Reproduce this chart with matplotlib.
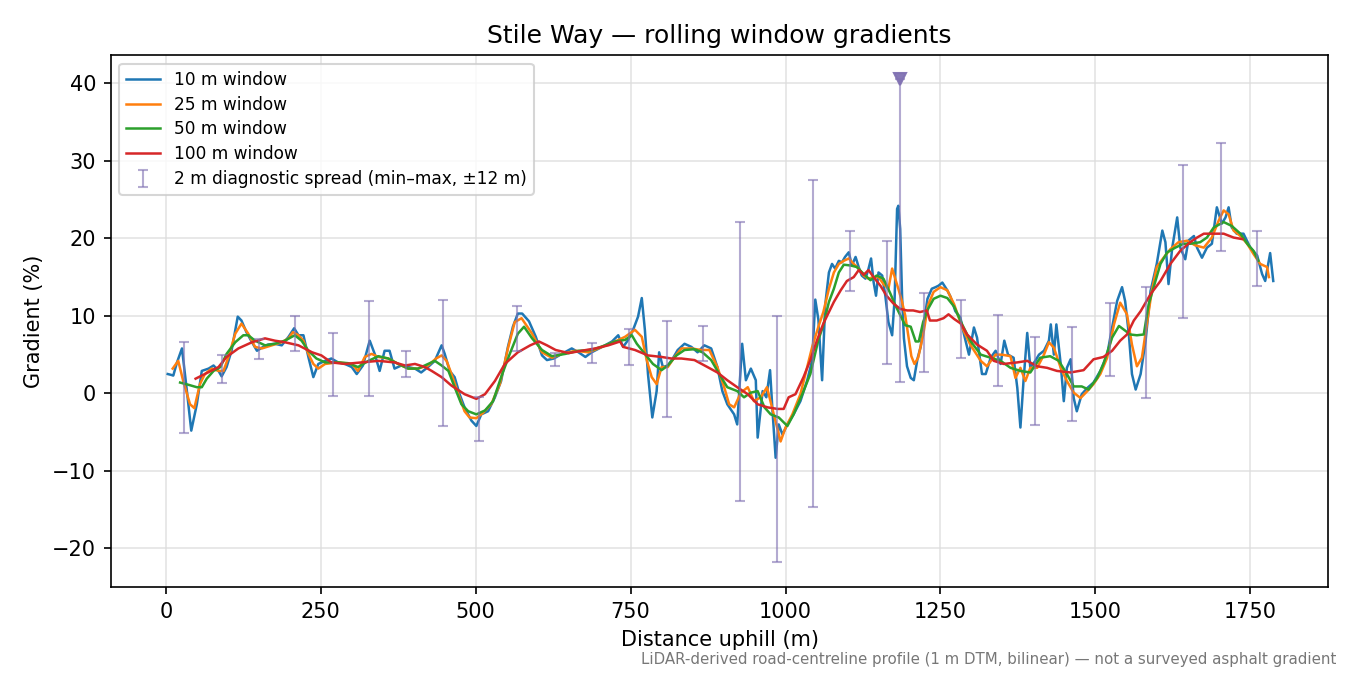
import numpy as np
import matplotlib
matplotlib.use("Agg")
import matplotlib.pyplot as plt

# 10 m window (distance m, gradient %)
d10 = [3, 8, 12, 18, 26, 33, 41, 50, 58, 69, 77, 85, 90, 98, 106, 116, 122, 130, 139, 147,
       155, 165, 176, 187, 198, 207, 214, 222, 230, 238, 246, 257, 267, 278, 289, 300, 308, 318,
       329, 337, 345, 353, 361, 369, 380, 391, 402, 412, 423, 434, 445, 450, 458, 466, 474, 482,
       493, 501, 509, 520, 531, 541, 552, 560, 568, 575, 586, 597, 607, 615, 626, 639, 655, 666,
       677, 687, 704, 720, 730, 738, 746, 754, 762, 768, 773, 778, 785, 792, 796, 802, 810, 818,
       826, 837, 848, 858, 869, 880, 890, 898, 906, 917, 922, 930, 936, 944, 952, 955, 963, 969,
       975, 979, 984, 989, 995, 1003, 1013, 1024, 1035, 1043, 1048, 1053, 1059, 1064, 1070, 1075,
       1080, 1086, 1091, 1096, 1102, 1107, 1113, 1118, 1123, 1129, 1134, 1138, 1142, 1146, 1150,
       1156, 1161, 1166, 1172, 1176, 1180, 1182, 1185, 1188, 1191, 1196, 1202, 1207, 1213, 1218,
       1224, 1229, 1236, 1242, 1247, 1253, 1261, 1266, 1274, 1282, 1288, 1296, 1304, 1309, 1317,
       1323, 1331, 1339, 1347, 1353, 1359, 1368, 1374, 1379, 1384, 1390, 1395, 1403, 1409, 1417,
       1425, 1428, 1433, 1437, 1444, 1449, 1454, 1460, 1465, 1470, 1478, 1487, 1497, 1508, 1519,
       1527, 1535, 1543, 1548, 1554, 1559, 1565, 1573, 1581, 1589, 1599, 1608, 1613, 1618, 1624,
       1632, 1637, 1645, 1650, 1659, 1664, 1672, 1680, 1688, 1696, 1704, 1710, 1715, 1720, 1728,
       1739, 1750, 1761, 1769, 1774, 1782, 1787]
g10 = [2.5, 2.4, 2.3, 4.0, 5.8, 1.0, -4.8, -1.4, 2.9, 3.2, 3.6, 2.9, 2.2, 3.4, 5.5, 9.9, 9.4, 7.9, 6.6, 5.5,
       5.9, 6.3, 6.4, 6.2, 7.3, 8.4, 7.5, 7.5, 4.7, 2.1, 3.8, 4.2, 4.5, 4.0, 3.8, 3.4, 2.5, 3.6,
       6.8, 5.1, 2.9, 5.5, 5.5, 3.2, 3.6, 3.4, 3.2, 2.7, 3.4, 4.2, 6.2, 5.1, 2.9, 2.1, -0.1, -1.8,
       -3.5, -4.2, -2.7, -2.3, -0.5, 1.6, 6.0, 8.6, 10.3, 10.3, 9.3, 7.3, 4.9, 4.3, 4.5, 5.1, 5.8, 5.3,
       4.7, 5.3, 6.0, 6.7, 7.5, 6.0, 6.9, 8.2, 9.9, 12.3, 8.2, 2.5, -3.1, 0.3, 5.3, 3.4, 3.6, 4.5,
       5.6, 6.4, 6.0, 5.3, 6.2, 5.8, 3.4, 0.3, -1.4, -2.7, -4.0, 6.4, 1.7, 3.2, 1.7, -5.7, 0.3, -0.5,
       3.0, -2.3, -8.3, -4.0, -5.3, -4.0, -2.7, -1.0, 1.7, 4.3, 12.1, 9.5, 1.7, 11.4, 15.6, 16.7,
       16.1, 17.1, 16.9, 17.6, 18.2, 16.5, 17.6, 16.3, 15.2, 14.8, 16.1, 17.4, 14.4, 12.6, 15.6,
       15.2, 12.6, 9.2, 7.5, 12.2, 23.8, 24.2, 21.2, 12.6, 7.1, 3.5, 2.0, 1.7, 4.5, 6.0,
       9.5, 12.2, 13.5, 13.7, 13.9, 14.3, 13.3, 12.5, 10.6, 9.8, 7.6, 5.0, 8.5, 7.2, 2.5,
       2.5, 4.6, 5.5, 3.8, 6.8, 5.0, 4.6, 0.7, -4.4, 1.6, 7.8, 3.3, 4.2, 5.0, 5.5,
       6.8, 8.9, 5.0, 8.9, 3.8, -1.0, 3.3, 4.4, -0.6, -2.3, -0.1, 0.7, 1.4, 2.9, 5.0,
       8.5, 11.9, 13.7, 11.9, 7.6, 2.5, 0.5, 2.5, 6.8, 13.2, 16.7, 21.0, 19.5, 14.1, 18.8,
       22.7, 18.8, 17.3, 19.7, 20.3, 18.8, 17.5, 18.8, 19.3, 24.0, 21.9, 22.7, 24.0, 21.4, 20.6,
       20.6, 18.8, 17.8, 15.4, 14.5, 18.1, 14.5]

# 25 m window
d25 = [11, 20, 28, 39, 46, 55, 63, 74, 85, 93, 101, 112, 122, 133, 144, 155, 171, 187, 198, 205,
       214, 222, 230, 238, 246, 257, 278, 300, 310, 321, 332, 343, 359, 375, 391, 407, 423, 436,
       445, 453, 461, 472, 482, 490, 501, 512, 525, 539, 552, 563, 574, 591, 607, 623, 639, 661,
       682, 704, 725, 741, 757, 768, 776, 784, 792, 800, 810, 821, 832, 848, 864, 877, 890, 901,
       909, 917, 928, 939, 949, 960, 970, 981, 992, 1000, 1011, 1024, 1035, 1043, 1053, 1061,
       1070, 1078, 1086, 1094, 1102, 1110, 1118, 1126, 1134, 1142, 1150, 1158, 1166, 1172, 1177,
       1182, 1188, 1193, 1198, 1203, 1208, 1214, 1222, 1230, 1239, 1250, 1261, 1272, 1285, 1298,
       1315, 1325, 1339, 1349, 1363, 1371, 1379, 1387, 1395, 1406, 1417, 1425, 1433, 1444, 1454,
       1465, 1476, 1487, 1497, 1508, 1519, 1530, 1540, 1551, 1559, 1567, 1575, 1583, 1591, 1599,
       1610, 1621, 1634, 1648, 1661, 1675, 1688, 1699, 1707, 1715, 1723, 1734, 1745, 1755, 1766,
       1777, 1780]
g25 = [3.2, 4.2, 1.6, -1.4, -1.9, 1.2, 2.5, 3.2, 2.9, 2.9, 4.7, 7.7, 9.0, 7.7, 6.0, 5.8, 6.2, 6.6, 7.1, 7.9,
       7.5, 6.8, 5.1, 3.8, 3.2, 3.8, 4.0, 3.8, 2.9, 4.7, 5.1, 4.7, 4.5, 3.8, 3.2, 3.2, 3.6, 4.5,
       4.9, 4.2, 2.5, -0.1, -2.3, -3.1, -3.2, -2.5, -1.4, 1.2, 5.8, 9.2, 9.7, 7.7, 5.3, 4.6, 5.1, 5.5,
       5.3, 6.0, 6.7, 7.3, 8.2, 7.3, 4.3, 2.1, 1.2, 3.4, 3.4, 4.7, 5.8, 5.8, 5.6, 5.6, 3.4, 0.8,
       -1.4, -1.8, 0.1, 0.8, -1.0, -0.5, 0.8, -2.7, -6.2, -4.4, -2.7, -0.1, 3.4, 6.0, 8.6, 10.5,
       13.5, 15.6, 16.7, 17.1, 17.4, 16.7, 16.1, 15.2, 14.8, 15.0, 15.0, 14.1, 13.5, 16.1, 14.8,
       13.5, 11.8, 10.1, 7.5, 4.8, 3.8, 4.6, 7.5, 11.4, 13.1, 13.7, 13.3, 11.5, 8.5, 6.3,
       4.2, 3.5, 5.0, 5.0, 4.8, 2.0, 3.3, 1.6, 3.3, 3.3, 5.0, 6.6, 5.9, 3.3, 1.6,
       0.1, -0.6, 0.3, 1.2, 2.5, 4.6, 8.9, 11.7, 10.2, 6.3, 3.5, 4.6, 8.9, 13.2, 16.3,
       17.5, 18.6, 19.5, 19.7, 19.1, 18.8, 20.1, 22.3, 23.6, 23.1, 21.0, 20.3, 19.3, 18.0, 16.7,
       16.3, 15.0]

# 50 m window
d50 = [23, 37, 50, 58, 66, 77, 88, 98, 112, 125, 133, 144, 160, 176, 192, 208, 219, 230, 243, 257,
       278, 294, 310, 327, 343, 359, 375, 391, 407, 423, 434, 445, 456, 466, 477, 488, 501, 515,
       528, 541, 555, 568, 578, 591, 607, 623, 645, 666, 687, 709, 725, 741, 752, 760, 773, 786,
       800, 810, 824, 837, 853, 866, 880, 893, 906, 922, 933, 944, 955, 966, 976, 989, 1003,
       1013, 1027, 1040, 1053, 1061, 1070, 1078, 1086, 1094, 1105, 1115, 1126, 1137, 1147, 1158,
       1169, 1177, 1185, 1193, 1202, 1210, 1215, 1222, 1230, 1239, 1250, 1261, 1272, 1285, 1298,
       1315, 1331, 1347, 1363, 1379, 1395, 1411, 1427, 1441, 1454, 1465, 1478, 1489, 1503, 1513,
       1527, 1538, 1548, 1556, 1567, 1578, 1586, 1594, 1605, 1616, 1629, 1642, 1653, 1669, 1680,
       1691, 1707, 1720, 1734, 1745, 1755, 1763]
g50 = [1.4, 1.1, 0.8, 0.8, 1.9, 2.9, 3.4, 5.1, 6.6, 7.5, 7.5, 6.8, 6.2, 6.4, 6.8, 7.5, 6.8, 5.5, 4.5, 4.0,
       4.0, 3.9, 3.4, 4.2, 4.8, 4.5, 3.8, 3.2, 3.2, 3.8, 4.2, 3.6, 2.9, 0.8, -1.4, -2.3, -2.7, -2.2,
       -1.0, 2.1, 5.1, 7.7, 8.6, 7.1, 5.6, 4.8, 5.1, 5.5, 5.6, 6.2, 6.7, 6.9, 7.5, 6.4, 5.1, 3.8,
       3.0, 3.6, 4.9, 5.6, 5.7, 5.3, 4.3, 2.5, 0.8, 0.3, -0.5, 0.1, 0.3, -1.8, -2.7, -3.1, -4.2,
       -2.7, -0.1, 2.5, 6.9, 8.8, 11.8, 13.5, 15.6, 16.6, 16.5, 16.3, 15.4, 14.6, 15.2, 14.8,
       12.9, 11.4, 10.1, 8.8, 8.6, 6.7, 6.7, 9.2, 10.9, 12.2, 12.6, 12.3, 11.2, 8.9, 6.8,
       5.0, 4.6, 4.2, 3.3, 2.9, 2.7, 4.6, 4.8, 4.2, 2.5, 0.9, 0.9, 0.5, 2.0, 3.8,
       7.2, 8.7, 8.1, 7.6, 7.5, 7.6, 11.5, 13.7, 16.7, 18.2, 18.8, 19.3, 19.3, 19.5, 20.1,
       21.4, 22.1, 21.6, 20.6, 19.3, 18.4, 17.1]

# 100 m window
d100 = [48, 63, 85, 98, 117, 139, 160, 176, 192, 214, 236, 251, 267, 289, 316, 343, 369, 386, 402, 418,
        429, 445, 461, 482, 501, 515, 531, 547, 568, 588, 602, 615, 629, 650, 671, 693, 714, 733,
        738, 757, 778, 800, 816, 832, 853, 874, 890, 906, 922, 939, 955, 971, 987, 997, 1005, 1016,
        1029, 1040, 1051, 1061, 1067, 1078, 1089, 1099, 1110, 1118, 1126, 1134, 1142, 1153, 1163,
        1174, 1185, 1196, 1206, 1217, 1228, 1233, 1244, 1255, 1263, 1272, 1283, 1293, 1309, 1325,
        1336, 1352, 1374, 1390, 1406, 1422, 1438, 1460, 1481, 1497, 1513, 1527, 1540, 1551, 1562,
        1573, 1589, 1605, 1621, 1637, 1653, 1664, 1675, 1691, 1707, 1723, 1737]
g100 = [1.9, 2.5, 3.4, 4.7, 5.8, 6.6, 7.1, 6.8, 6.6, 6.2, 5.3, 4.9, 4.0, 3.8, 4.0, 4.2, 4.0, 3.6, 3.8, 3.4,
        2.9, 2.1, 1.0, -0.1, -0.7, -0.1, 1.6, 3.8, 5.3, 6.2, 6.7, 6.2, 5.6, 5.2, 5.5, 5.8, 6.2, 6.7,
        6.0, 5.6, 4.9, 4.7, 4.5, 4.5, 4.3, 3.4, 2.7, 1.7, 0.8, -0.1, -1.4, -1.8, -2.0, -2.0, -0.5, -0.1,
        2.1, 4.3, 6.9, 9.0, 10.0, 11.8, 13.3, 14.5, 15.0, 15.9, 15.3, 15.9, 15.0, 13.9, 12.6,
        11.6, 10.9, 10.7, 10.7, 10.5, 10.7, 9.4, 9.4, 9.7, 10.2, 9.6, 9.0, 7.6, 6.3, 5.5,
        4.2, 3.8, 4.0, 4.2, 3.5, 3.3, 2.9, 2.7, 3.0, 4.4, 4.7, 5.5, 6.8, 7.6, 9.4,
        10.6, 12.8, 14.5, 16.7, 18.4, 19.5, 20.1, 20.6, 20.6, 20.6, 20.1, 19.9]

# 2 m diagnostic spread: position, min, max
spread_d = [30, 90, 150, 209, 269, 328, 388, 447, 506, 567, 628, 687, 748, 808, 867, 926, 986,
            1045, 1104, 1164, 1185, 1223, 1283, 1343, 1403, 1463, 1523, 1582, 1642, 1702, 1761]
spread_lo = [-5.1, 1.3, 4.5, 5.5, -0.3, -0.3, 2.1, -4.2, -6.1, 5.5, 3.5, 3.9, 3.7, -3.1, 4.2, -13.9, -21.8,
             -14.7, 13.2, 3.8, 1.5, 2.7, 4.6, 0.9, -4.1, -3.5, 2.3, -0.6, 9.7, 18.4, 13.8]
spread_hi = [6.6, 4.9, 7.0, 10.0, 7.8, 11.9, 5.5, 12.0, -0.5, 11.3, 5.2, 6.5, 8.3, 9.3, 8.7, 22.1, 10.0,
             27.5, 21.0, 19.6, 40.5, 13.0, 12.1, 10.1, 7.3, 8.6, 11.6, 13.7, 29.4, 32.3, 21.0]

# clipped maximum marker
clip_d = [1185]
clip_g = [40.5]

fig, ax = plt.subplots(figsize=(9, 4.5), dpi=150)
fig.subplots_adjust(left=0.082, right=0.984, top=0.918, bottom=0.13)

lw = 1.2
ax.plot(d10, g10, color="#1f77b4", lw=lw, label="10 m window")
ax.plot(d25, g25, color="#ff7f0e", lw=lw, label="25 m window")
ax.plot(d50, g50, color="#2ca02c", lw=lw, label="50 m window")
ax.plot(d100, g100, color="#d62728", lw=lw, label="100 m window")

lo = np.array(spread_lo)
hi = np.array(spread_hi)
ax.errorbar(spread_d, lo, yerr=[np.zeros_like(lo), hi - lo], fmt="none",
            ecolor="#8172b3", elinewidth=1.0, capsize=2.5, alpha=0.6,
            label="2 m diagnostic spread (min\u2013max, \u00b112 m)")
ax.plot(clip_d, clip_g, linestyle="none", marker="v", markersize=6,
        color="#8172b3", alpha=0.95)

ax.set_xlim(-89, 1876)
ax.set_ylim(-25, 43.6)
ax.grid(True, color="#dddddd", linewidth=0.8, alpha=0.8)
ax.set_axisbelow(True)

ax.set_title("Stile Way \u2014 rolling window gradients", fontsize=12)
ax.set_xlabel("Distance uphill (m)")
ax.set_ylabel("Gradient (%)")
ax.legend(loc="upper left", fontsize=8.2, labelspacing=0.4)

fig.text(0.99, 0.012,
         "LiDAR-derived road-centreline profile (1 m DTM, bilinear) \u2014 not a surveyed asphalt gradient",
         ha="right", va="bottom", fontsize=7.2, color="#777777")

fig.savefig("out.png", dpi=150)
